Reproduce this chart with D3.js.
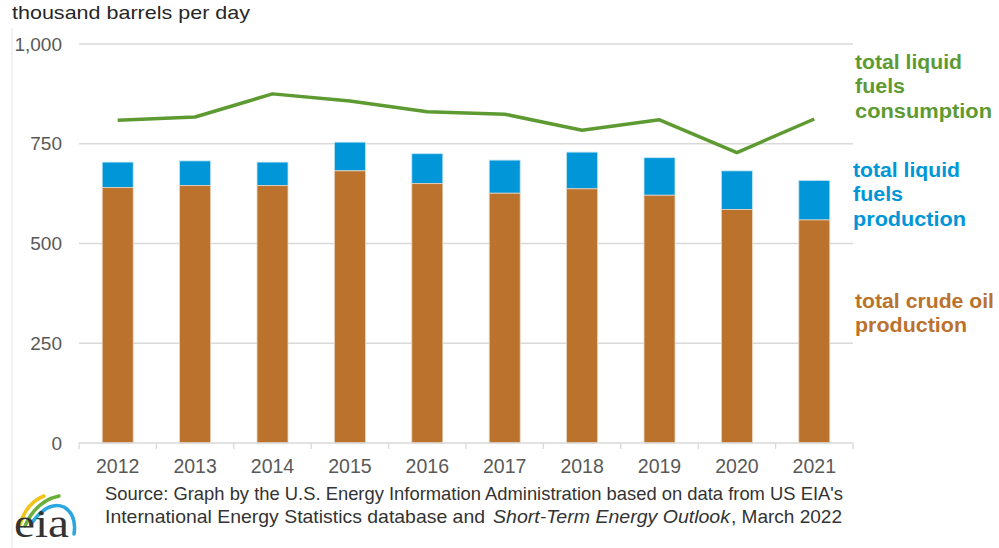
<!DOCTYPE html>
<html><head><meta charset="utf-8">
<script src="https://cdn.jsdelivr.net/npm/d3@7"></script>
<style>body{margin:0;background:#fff}svg{display:block;font-family:"Liberation Sans",Arial,sans-serif}</style>
</head><body>
<svg id="c" width="999" height="548"></svg>
<script>
const years = ["2012","2013","2014","2015","2016","2017","2018","2019","2020","2021"];
const crudeProduction = [640,645,645,682,650,626,637,621,585,559];
const liquidsProduction = [704,707,704,754,725,709,729,715,682,658];
const consumption = [809,817,875,857,830,824,784,810,728,812];
const yTicks = [0,250,500,750,1000];

const colors = {crude:"#BA722C", liquids:"#0096D7", cons:"#5E9A32"};
const svg = d3.select("#c");
const x = d3.scaleBand().domain(years).range([79,853]).paddingInner(0.6).paddingOuter(0.3);
const y = d3.scaleLinear().domain([0,1000]).range([443,44]);

function fit(sel, w){ sel.attr("textLength", w).attr("lengthAdjust","spacingAndGlyphs"); return sel; }

// left border line
svg.append("line").attr("x1",12).attr("x2",12).attr("y1",28).attr("y2",548).attr("stroke","#e3e3e3").attr("stroke-width",1);

// gridlines
svg.append("g").selectAll("line").data(yTicks.filter(d=>d>0)).join("line")
  .attr("x1",79).attr("x2",853).attr("y1",d=>y(d)).attr("y2",d=>y(d))
  .attr("stroke","#d9d9d9").attr("stroke-width",1.3);

// y tick labels
svg.append("g").selectAll("text").data(yTicks).join("text")
  .attr("x",62).attr("y",d=>y(d)).attr("dy","0.35em").attr("text-anchor","end")
  .attr("font-size",19).attr("fill","#595959").text(d3.format(","));

// bars
const bw = x.bandwidth();
const g = svg.append("g");
g.selectAll("rect.l").data(years).join("rect").attr("class","l")
  .attr("x",d=>x(d)).attr("width",bw)
  .attr("y",(d,i)=>y(liquidsProduction[i])).attr("height",(d,i)=>y(crudeProduction[i])-y(liquidsProduction[i]))
  .attr("fill",colors.liquids).attr("stroke","#bfe3f4").attr("stroke-width",0.8);
g.selectAll("rect.c").data(years).join("rect").attr("class","c")
  .attr("x",d=>x(d)).attr("width",bw)
  .attr("y",(d,i)=>y(crudeProduction[i])).attr("height",(d,i)=>y(0)-y(crudeProduction[i]))
  .attr("fill",colors.crude).attr("stroke","#ead3bd").attr("stroke-width",0.8);

// x axis
const xa = svg.append("g").attr("transform","translate(0,443)");
xa.append("line").attr("x1",79).attr("x2",853).attr("stroke","#d9d9d9").attr("stroke-width",1.3);
const step = x.step();
xa.selectAll("line.t").data(d3.range(years.length+1)).join("line").attr("class","t")
  .attr("x1",i=>79+i*step).attr("x2",i=>79+i*step).attr("y1",0).attr("y2",6)
  .attr("stroke","#d9d9d9").attr("stroke-width",1.3);
xa.selectAll("text").data(years).join("text")
  .attr("x",d=>x(d)+bw/2).attr("y",30).attr("text-anchor","middle")
  .attr("font-size",19.5).attr("fill","#595959").text(d=>d);

// line
svg.append("path").datum(consumption)
  .attr("d",d3.line().x((d,i)=>x(years[i])+bw/2).y(d=>y(d)))
  .attr("fill","none").attr("stroke",colors.cons).attr("stroke-width",3.5).attr("stroke-linejoin","round");

// title
fit(svg.append("text").attr("x",12).attr("y",19).attr("font-size",19).attr("fill","#262626").text("thousand barrels per day"), 238);

// legend labels
const legends = [
  {lines:["total liquid","fuels","consumption"], widths:[107,50,137], color:colors.cons, x:855, y:62},
  {lines:["total liquid","fuels","production"], widths:[107,50,113], color:colors.liquids, x:853, y:170},
  {lines:["total crude oil","production"], widths:[139,112], color:colors.crude, x:855, y:301}
];
legends.forEach(l=>{
  l.lines.forEach((s,i)=>{
    fit(svg.append("text").attr("x",l.x).attr("y",l.y+i*24.3).attr("dy","0.36em")
      .attr("font-size",19.5).attr("font-weight","bold").attr("fill",l.color).text(s), l.widths[i]);
  });
});

// source
const sc = "#333";
fit(svg.append("text").attr("x",105).attr("y",500).attr("font-size",18.5).attr("fill",sc)
  .text("Source: Graph by the U.S. Energy Information Administration based on data from US EIA's"), 738);
fit(svg.append("text").attr("x",105).attr("y",523).attr("font-size",18.5).attr("fill",sc)
  .text("International Energy Statistics database and"), 380);
fit(svg.append("text").attr("x",493).attr("y",523).attr("font-size",18.5).attr("fill",sc).attr("font-style","italic")
  .text("Short-Term Energy Outlook"), 237);
fit(svg.append("text").attr("x",731).attr("y",523).attr("font-size",18.5).attr("fill",sc)
  .text(", March 2022"), 111);

// eia logo
const logo = svg.append("g").attr("transform","translate(0,-3)");
logo.append("path").attr("d","M20,528 Q26,506 44,499").attr("fill","none").attr("stroke","#F2C318").attr("stroke-width",3.5).attr("stroke-linecap","round");
logo.append("path").attr("d","M25,529 Q36,504 59,499").attr("fill","none").attr("stroke","#6BAF3A").attr("stroke-width",3.5).attr("stroke-linecap","round");
logo.append("path").attr("d","M31,527 Q48,503 64,510 Q77,518 74,537").attr("fill","none").attr("stroke","#2AA7DF").attr("stroke-width",3.5).attr("stroke-linecap","round");
fit(logo.append("text").attr("x",14).attr("y",540).attr("font-family","'Liberation Serif','DejaVu Serif',serif")
  .attr("font-size",40).attr("fill","#333").text("eia"), 55);
</script>
</body></html>
